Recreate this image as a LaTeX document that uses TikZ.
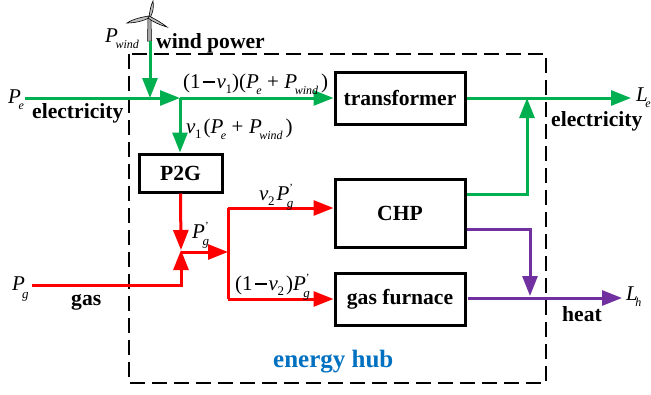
\documentclass[tikz,border=0pt]{standalone}
\usepackage{fontspec}
\setmainfont{Liberation Serif}
\usetikzlibrary{arrows.meta}
\definecolor{cgreen}{RGB}{0,176,80}
\definecolor{cred}{RGB}{255,0,0}
\definecolor{cpurple}{RGB}{112,48,160}
\definecolor{cblue}{RGB}{0,112,192}
\newcommand{\Sz}[1]{\fontsize{#1}{#1}\selectfont}
\newcommand{\Vr}[2]{{\itshape #1}\kern-2.5pt\raisebox{-6pt}{\Sz{12}\itshape #2}}
\newcommand{\Vg}{{\itshape P}\kern-3pt\raisebox{-8pt}{\Sz{13}\itshape g}}
\newcommand{\Pg}{{\itshape P}\kern-2.5pt\rlap{\raisebox{-7.5pt}{\Sz{13}\itshape g}}\kern2.5pt\raisebox{9pt}{\Sz{11}'}\kern2pt}
\newcommand{\Vn}[1]{{\itshape v}\kern-0.5pt\raisebox{-5pt}{\Sz{13}#1}}
\newcommand{\Mn}{\kern2pt\rule[5.5pt]{12pt}{1.5pt}\kern2pt}
\newcommand{\Pl}{\kern5.5pt+\kern5.5pt}
\tikzset{
  x=1pt,y=-1pt,
  blockbox/.style={draw=black,line width=3pt,fill=white,inner sep=0pt,font=\bfseries\Sz{21.6}},
  flow/.style={line width=3pt,-{Triangle[length=20pt,width=15pt]}},
  plain/.style={line width=3pt},
  green/.style={draw=cgreen,color=cgreen},
  red/.style={draw=cred,color=cred},
  purple/.style={draw=cpurple,color=cpurple},
  boldlabel/.style={inner sep=0pt,font=\bfseries\Sz{21.6}},
  mathlabel/.style={inner sep=0pt,font=\Sz{21}},
}
\begin{document}
\begin{tikzpicture}
\useasboundingbox (0,0) rectangle (651,394);
% dashed hub
\draw[black,line width=1.8pt,dash pattern=on 15pt off 7pt] (129,54) rectangle (546,383);
% blocks
\node[blockbox,minimum width=130pt,minimum height=52pt] (tr) at (400,98) {transformer};
\node[blockbox,minimum width=83pt,minimum height=38pt] (p2g) at (180.5,173) {P2G};
\node[blockbox,minimum width=130pt,minimum height=68pt] (chp) at (400,213) {CHP};
\node[blockbox,minimum width=130pt,minimum height=52pt] (gf) at (400,299) {gas furnace};
% coordinates
\coordinate (ein) at (25,98);
\coordinate (jn) at (180,98);
\coordinate (wtop) at (150,41);
\coordinate (wj) at (150,98);
\coordinate (eout) at (631,98);
\coordinate (ce) at (527,98);
\coordinate (hout) at (622,298);
\coordinate (hj) at (530,296);
\coordinate (gin) at (32,285);
\coordinate (gj) at (181,285);
\coordinate (rj) at (181,250);
\coordinate (sp) at (228,252);
\coordinate (st) at (228,208);
\coordinate (sb) at (228,299);
% turbine
\fill[gray!70,draw=black,line width=.5pt] (148,17) -- (151,17) -- (151.5,41) -- (147.5,41) -- cycle;
\fill[gray!50,draw=black,line width=.6pt] (149,17) .. controls (150,10) and (151,5) .. (153,1) .. controls (154,7) and (153,12) .. (150.5,17) -- cycle;
\fill[gray!50,draw=black,line width=.6pt] (149,16) .. controls (142,17) and (133,19) .. (127,23) .. controls (135,23) and (143,21) .. (149,18) -- cycle;
\fill[gray!50,draw=black,line width=.6pt] (149,16) .. controls (155,19) and (162,23) .. (167,27) .. controls (160,25) and (153,22) .. (148,18) -- cycle;
% green
\draw[flow,green] (wtop) -- (wj);
\draw[flow,green] (ein) -- (jn);
\draw[flow,green] (jn) -- (tr.west);
\draw[flow,green] (jn) -- (jn |- p2g.north);
\draw[flow,green] (tr.east) -- (eout);
\draw[flow,green] (chp.east |- 0,194) -| (ce);
% purple
\draw[flow,purple] (chp.east |- 0,229) -| (hj);
\draw[flow,purple] (gf.east) ++(1,-1) -- (hout);
% red
\draw[flow,red] (p2g.south) -- (rj);
\draw[flow,red] (gin) -| (rj);
\draw[flow,red] (rj |- sp) -- (sp);
\draw[plain,red] (st) -- (sb);
\draw[flow,red] (st) -- (chp.west |- st);
\draw[flow,red] (sb) -- (gf.west |- sb);
% labels
\node[mathlabel,anchor=base west] (lw) at (105,42) {\Vr{P}{wind}};
\node[boldlabel,anchor=base west] (lwp) at (156,48) {wind power};
\node[mathlabel,anchor=base west] (lpe) at (8,103) {\Vr{P}{e}};
\node[boldlabel,anchor=base west] (lel) at (32,118) {electricity};
\node[mathlabel,anchor=base west] (l1) at (183,88) {(1\Mn\Vn{1})(\Vr{P}{e}\Pl\Vr{P}{wind}\kern3pt)};
\node[mathlabel,anchor=base west] (l2) at (186,133) {\Vn{1}\kern2pt(\Vr{P}{e}\Pl\Vr{P}{wind}\kern3pt)};
\node[mathlabel,anchor=base west] (l3) at (192,238) {\Pg};
\node[mathlabel,anchor=base west] (l4) at (259,200) {\Vn{2}\kern2pt\Pg};
\node[mathlabel,anchor=base west] (l5) at (235,290) {(1\Mn\Vn{2}\kern2pt)\Pg};
\node[mathlabel,anchor=base west] (lpg) at (12,290) {\Vg};
\node[boldlabel,anchor=base west] (lgas) at (71,305) {gas};
\node[mathlabel,anchor=base west] (lle) at (636,101) {\Vr{L}{e}};
\node[boldlabel,anchor=base west] (lel2) at (551,126) {electricity};
\node[mathlabel,anchor=base west] (llh) at (626,300) {\Vr{L}{h}};
\node[boldlabel,anchor=base west] (lh) at (562,321) {heat};
\node[anchor=base west,inner sep=0pt,font=\bfseries\Sz{25},text=cblue] (lhub) at (273,367) {energy hub};
\end{tikzpicture}
\end{document}
